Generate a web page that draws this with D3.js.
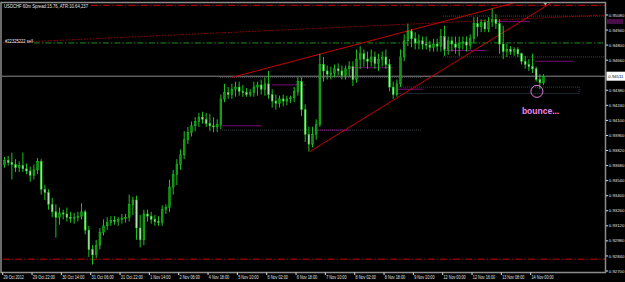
<!DOCTYPE html>
<html>
<head>
<meta charset="utf-8">
<script src="https://cdn.jsdelivr.net/npm/d3@7"></script>
<style>
html, body {margin:0; padding:0; background:#000; overflow:hidden}
svg {display:block}
text {font-family:"Liberation Sans", Arial, sans-serif}
</style>
</head>
<body>
<svg id="chart" width="625" height="282"></svg>
<script>
// USDCHF, 2 hour candles from 29 Oct 2012 to 14 Nov 2012
var opens = [
0.9369,0.9373,0.9371,0.9369,0.9366,0.9368,0.9365,0.9363,0.9359,0.9364,
0.9372,0.9346,0.9343,0.9332,0.9325,0.9320,0.9324,0.9323,0.9320,0.9319,
0.9320,0.9321,0.9325,0.9308,0.9290,0.9285,0.9294,0.9306,0.9312,0.9315,
0.9317,0.9316,0.9318,0.9319,0.9320,0.9332,0.9336,0.9310,0.9299,0.9323,
0.9321,0.9318,0.9316,0.9315,0.9327,0.9329,0.9348,0.9360,0.9369,0.9378,
0.9392,0.9399,0.9405,0.9409,0.9413,0.9411,0.9407,0.9405,0.9404,0.9406,
0.9430,0.9436,0.9434,0.9439,0.9441,0.9437,0.9436,0.9434,0.9436,0.9441,
0.9443,0.9439,0.9444,0.9434,0.9428,0.9426,0.9430,0.9428,0.9430,0.9431,
0.9437,0.9446,0.9420,0.9397,0.9388,0.9397,0.9406,0.9462,0.9456,0.9453,
0.9454,0.9458,0.9456,0.9452,0.9458,0.9460,0.9448,0.9467,0.9472,0.9467,
0.9465,0.9469,0.9463,0.9467,0.9469,0.9462,0.9441,0.9434,0.9444,0.9469,
0.9484,0.9493,0.9486,0.9482,0.9484,0.9481,0.9480,0.9478,0.9481,0.9479,
0.9488,0.9476,0.9484,0.9481,0.9478,0.9482,0.9483,0.9480,0.9486,0.9500,
0.9497,0.9501,0.9495,0.9502,0.9504,0.9500,0.9481,0.9474,0.9476,0.9474,
0.9476,0.9472,0.9465,0.9462,0.9460,0.9458,0.9448,0.9445];
var highs = [
0.9376,0.9377,0.9380,0.9374,0.9372,0.9380,0.9370,0.9367,0.9369,0.9375,
0.9374,0.9350,0.9346,0.9338,0.9332,0.9329,0.9327,0.9329,0.9325,0.9324,
0.9325,0.9333,0.9327,0.9312,0.9294,0.9299,0.9310,0.9318,0.9320,0.9321,
0.9321,0.9320,0.9323,0.9323,0.9341,0.9339,0.9340,0.9322,0.9327,0.9327,
0.9325,0.9322,0.9321,0.9331,0.9332,0.9355,0.9364,0.9374,0.9383,0.9400,
0.9404,0.9409,0.9413,0.9417,0.9418,0.9417,0.9416,0.9413,0.9411,0.9434,
0.9444,0.9441,0.9444,0.9446,0.9446,0.9443,0.9440,0.9439,0.9446,0.9446,
0.9448,0.9450,0.9456,0.9439,0.9434,0.9433,0.9434,0.9433,0.9433,0.9441,
0.9450,0.9450,0.9425,0.9404,0.9404,0.9411,0.9472,0.9469,0.9461,0.9460,
0.9462,0.9463,0.9461,0.9461,0.9465,0.9465,0.9476,0.9479,0.9476,0.9474,
0.9476,0.9474,0.9472,0.9474,0.9476,0.9467,0.9446,0.9448,0.9476,0.9490,
0.9500,0.9495,0.9492,0.9490,0.9488,0.9488,0.9484,0.9486,0.9486,0.9495,
0.9498,0.9488,0.9488,0.9488,0.9488,0.9488,0.9488,0.9490,0.9506,0.9506,
0.9504,0.9504,0.9506,0.9514,0.9509,0.9504,0.9498,0.9481,0.9479,0.9478,
0.9478,0.9473,0.9470,0.9467,0.9472,0.9460,0.9453,0.9453];
var lows = [
0.9366,0.9368,0.9355,0.9362,0.9362,0.9362,0.9360,0.9353,0.9355,0.9360,
0.9341,0.9336,0.9327,0.9320,0.9301,0.9313,0.9318,0.9316,0.9315,0.9314,
0.9316,0.9318,0.9304,0.9283,0.9276,0.9282,0.9290,0.9303,0.9308,0.9312,
0.9313,0.9312,0.9314,0.9315,0.9316,0.9322,0.9299,0.9292,0.9294,0.9316,
0.9314,0.9312,0.9312,0.9312,0.9323,0.9325,0.9341,0.9350,0.9364,0.9374,
0.9388,0.9395,0.9400,0.9404,0.9407,0.9404,0.9400,0.9399,0.9399,0.9402,
0.9427,0.9430,0.9430,0.9432,0.9433,0.9432,0.9432,0.9432,0.9432,0.9433,
0.9434,0.9433,0.9430,0.9422,0.9420,0.9422,0.9423,0.9424,0.9426,0.9427,
0.9433,0.9414,0.9390,0.9381,0.9385,0.9392,0.9404,0.9446,0.9448,0.9448,
0.9450,0.9452,0.9448,0.9448,0.9450,0.9442,0.9445,0.9458,0.9460,0.9458,
0.9460,0.9458,0.9456,0.9460,0.9458,0.9437,0.9430,0.9432,0.9441,0.9465,
0.9479,0.9478,0.9476,0.9476,0.9476,0.9476,0.9474,0.9474,0.9474,0.9474,
0.9470,0.9471,0.9474,0.9472,0.9470,0.9476,0.9474,0.9476,0.9482,0.9488,
0.9492,0.9492,0.9492,0.9497,0.9495,0.9472,0.9467,0.9469,0.9471,0.9470,
0.9469,0.9462,0.9458,0.9456,0.9454,0.9446,0.9439,0.9443];
var closes = [
0.9373,0.9371,0.9369,0.9366,0.9368,0.9365,0.9363,0.9359,0.9364,0.9372,
0.9346,0.9343,0.9332,0.9325,0.9320,0.9324,0.9323,0.9320,0.9319,0.9320,
0.9321,0.9325,0.9308,0.9290,0.9285,0.9294,0.9306,0.9312,0.9315,0.9317,
0.9316,0.9318,0.9319,0.9320,0.9332,0.9336,0.9310,0.9299,0.9323,0.9321,
0.9318,0.9316,0.9315,0.9327,0.9329,0.9348,0.9360,0.9369,0.9378,0.9392,
0.9399,0.9405,0.9409,0.9413,0.9411,0.9407,0.9405,0.9404,0.9406,0.9430,
0.9436,0.9434,0.9439,0.9441,0.9437,0.9436,0.9434,0.9436,0.9441,0.9443,
0.9439,0.9444,0.9434,0.9428,0.9426,0.9430,0.9428,0.9430,0.9431,0.9437,
0.9446,0.9420,0.9397,0.9388,0.9397,0.9406,0.9462,0.9456,0.9453,0.9454,
0.9458,0.9456,0.9452,0.9458,0.9460,0.9448,0.9467,0.9472,0.9467,0.9465,
0.9469,0.9463,0.9467,0.9469,0.9462,0.9441,0.9434,0.9444,0.9469,0.9484,
0.9493,0.9486,0.9482,0.9484,0.9481,0.9480,0.9478,0.9481,0.9479,0.9488,
0.9476,0.9484,0.9481,0.9478,0.9482,0.9483,0.9480,0.9486,0.9500,0.9497,
0.9501,0.9495,0.9502,0.9504,0.9500,0.9481,0.9474,0.9476,0.9474,0.9476,
0.9472,0.9465,0.9462,0.9460,0.9458,0.9448,0.9445,0.94511];

var timeLabels = ["29 Oct 2012","29 Oct 22:00","30 Oct 14:00","31 Oct 06:00","31 Oct 22:00",
    "1 Nov 14:00","2 Nov 06:00","4 Nov 18:00","5 Nov 10:00","6 Nov 02:00","6 Nov 18:00",
    "7 Nov 10:00","8 Nov 02:00","8 Nov 18:00","9 Nov 10:00","12 Nov 00:00","12 Nov 16:00",
    "13 Nov 08:00","14 Nov 00:00"];
var priceTicks = [0.9508,0.9494,0.9480,0.9466,0.9452,0.9438,0.9424,0.9410,0.9396,0.9382,
    0.9368,0.9354,0.9340,0.9326,0.9312,0.9298,0.9284,0.9270];
var bid = 0.94511;

// objects on the chart, [hour, price] or [price, fromHour, toHour]
var wedgeTop = [[125, 0.9450], [249.4, 0.9506]];
var wedgeBottom = [[167.5, 0.9381], [249.4, 0.9467]];
var sellTrend = [[0, 0.9482], [328.6, 0.9508]];
var redLevels = [[0.9517, 48, 330], [0.9281, 0, 330]];
var greenLevels = [[0.9482, 17, 330]];
var purpleLevels = [[0.9502, 268.6, 287.6], [0.9475, 240.2, 263.1], [0.9465, 290.4, 311.1],
    [0.9459, 189.5, 212.9], [0.9443, 146.9, 165.5], [0.9439, 215.1, 229.3],
    [0.9405, 119.6, 141.4], [0.9401, 170.4, 189.5]];
var grayLevels = [[0.9450, 118.5, 228.7], [0.9401, 118.5, 228.7], [0.9507, 240.2, 330],
    [0.9469, 240.2, 330]];
var zone = [0.9441, 0.9435, 215.1, 314.4];
var bounce = [291.4, 0.9437];
var shiftHour = 296;

var svg = d3.select('#chart');
var x = d3.scaleLinear().domain([0, 288]).range([2.7, 530.7]);
var y = d3.scaleLinear().domain([0.9270, 0.9508]).range([271, 15]);

svg.append("rect").attr("width", 625).attr("height", 282).attr("fill", "#000");

svg.append("clipPath").attr("id", "plot")
    .append("rect").attr("x", 2).attr("y", 3).attr("width", 603).attr("height", 269);

var g = svg.append("g").attr("clip-path", "url(#plot)");

function level(sel, data, color, dash, w) {
    sel.selectAll(null).data(data).enter().append("line")
        .attr("x1", d => x(d[1])).attr("x2", d => x(d[2]))
        .attr("y1", d => y(d[0])).attr("y2", d => y(d[0]))
        .attr("stroke", color).attr("stroke-width", w || 1)
        .attr("stroke-dasharray", dash);
}

// bid line
g.append("line")
    .attr("x1", 0).attr("x2", 605)
    .attr("y1", y(bid)).attr("y2", y(bid))
    .attr("stroke", "#8a8a8a").attr("stroke-width", 1);

level(g, grayLevels, "#40464c", "1,1");
level(g, redLevels, "#d00000", "7,2,1.5,2");
level(g, greenLevels, "#1f8f1f", "6,2,1.5,2");
level(g, purpleLevels, "#7a0a7a", null);

// dotted zone box
g.append("rect")
    .attr("x", x(zone[2])).attr("y", y(zone[0]))
    .attr("width", x(zone[3]) - x(zone[2]))
    .attr("height", y(zone[1]) - y(zone[0]))
    .attr("fill", "none").attr("stroke", "#2e4a5c").attr("stroke-dasharray", "1,1");

// sloped lines, drawn as rays to the right
function ray(pts, color, dash) {
    var k = (pts[1][1] - pts[0][1]) / (pts[1][0] - pts[0][0]);
    var end = 340;
    g.append("line")
        .attr("x1", x(pts[0][0])).attr("y1", y(pts[0][1]))
        .attr("x2", x(end)).attr("y2", y(pts[0][1] + k * (end - pts[0][0])))
        .attr("stroke", color).attr("stroke-width", 1)
        .attr("stroke-dasharray", dash);
}
ray(sellTrend, "#a00000", "1.5,1.5");
ray(wedgeTop, "#c80000", null);
ray(wedgeBottom, "#c80000", null);

// candles
var bw = x(2) - x(0) - 1.9;
var candles = g.append("g");
closes.forEach((c, i) => {
    var cx = x(2 * i + 1);
    var o = opens[i];
    candles.append("line")
        .attr("x1", cx).attr("x2", cx)
        .attr("y1", y(highs[i])).attr("y2", y(lows[i]))
        .attr("stroke", "#1cc41c").attr("stroke-width", 1);
    var top = y(Math.max(o, c)), bot = y(Math.min(o, c));
    candles.append("rect")
        .attr("x", cx - bw / 2).attr("y", top)
        .attr("width", bw).attr("height", Math.max(1, bot - top))
        .attr("fill", c >= o ? "#109010" : "#aee8ae")
        .attr("stroke", "#1cc41c").attr("stroke-width", 0.5);
});

// bounce marker
g.append("circle")
    .attr("cx", x(bounce[0])).attr("cy", y(bounce[1])).attr("r", 6)
    .attr("fill", "none").attr("stroke", "#e27ee2").attr("stroke-width", 1);
g.append("text")
    .attr("x", x(bounce[0]) - 15).attr("y", y(bounce[1]) + 23)
    .attr("font-size", "8.5px").attr("font-weight", "bold")
    .attr("fill", "#ee88ee").text("bounce...");

// texts in the corner
svg.append("text").attr("x", 4).attr("y", 7.5)
    .attr("font-size", "5.5px").attr("fill", "#e8e8e8")
    .attr("textLength", 84).attr("lengthAdjust", "spacingAndGlyphs")
    .text("USDCHF 60m Spread:15.76, ATR:10.64,237");
svg.append("text").attr("x", 5).attr("y", 42.5)
    .attr("font-size", "5px").attr("fill", "#e8e8e8")
    .attr("textLength", 28).attr("lengthAdjust", "spacingAndGlyphs")
    .text("#22325222 sell");

// chart shift marker
var sx = x(shiftHour);
svg.append("path")
    .attr("d", "M" + (sx - 2.5) + ",2L" + (sx + 2.5) + ",2L" + sx + ",5.5Z")
    .attr("fill", "#a8a8a8");

// frame
svg.append("rect")
    .attr("x", 1).attr("y", 2.5).attr("width", 604.5).attr("height", 270)
    .attr("fill", "none").attr("stroke", "#8c8c8c").attr("stroke-width", 1.5);

// price axis
var yt = svg.append("g");
priceTicks.filter(p => Math.abs(y(p) - y(bid)) > 7).forEach(p => {
    yt.append("line").attr("x1", 606).attr("x2", 608)
        .attr("y1", y(p)).attr("y2", y(p)).attr("stroke", "#ddd");
    yt.append("text").attr("x", 608.8).attr("y", y(p) + 1.6)
        .attr("font-size", "4.3px").attr("fill", "#e0e0e0")
        .text(d3.format(".5f")(p));
});
yt.append("rect").attr("x", 607).attr("y", y(purpleLevels[0][0]) - 2.5)
    .attr("width", 16).attr("height", 5).attr("fill", "#4a0f4a");
yt.append("rect").attr("x", 606.5).attr("y", y(bid) - 4.5)
    .attr("width", 18.5).attr("height", 9).attr("fill", "#fff");
yt.append("text").attr("x", 608.3).attr("y", y(bid) + 1.6)
    .attr("font-size", "4.3px").attr("fill", "#000")
    .text(d3.format(".5f")(bid));

// time axis
var xt = svg.append("g");
timeLabels.forEach((t, i) => {
    var tx = x(i * 16);
    xt.append("line").attr("x1", tx).attr("x2", tx)
        .attr("y1", 272.5).attr("y2", 275).attr("stroke", "#ddd");
    xt.append("text").attr("x", tx + 0.8).attr("y", 278.6)
        .attr("font-size", "4.6px").attr("fill", "#e0e0e0")
        .attr("textLength", t.length * 1.85).attr("lengthAdjust", "spacingAndGlyphs")
        .text(t);
});
</script>
</body>
</html>
